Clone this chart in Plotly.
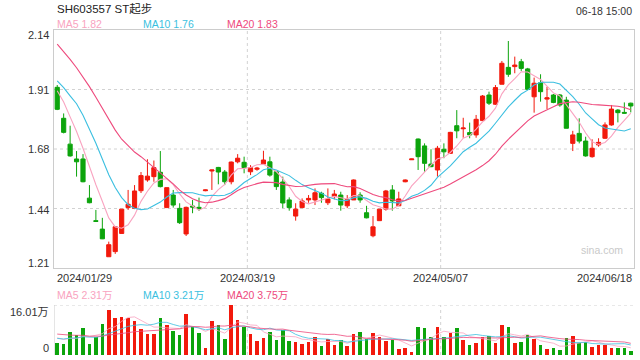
import plotly.graph_objects as go
import numpy as np

# ---------------- data ----------------
tick_labels = ["2024/01/29", "2024/03/19", "2024/05/07", "2024/06/18"]
tick_index = [0, 30, 60, 89]

open_ = [1.916, 1.795, 1.694, 1.636, 1.636, 1.483, 1.395, 1.362, 1.254, 1.274,
         1.345, 1.446, 1.443, 1.512, 1.554, 1.567, 1.584, 1.446, 1.495, 1.443,
         1.343, 1.452, 1.447, 1.512, 1.589, 1.603, 1.585, 1.547, 1.625, 1.623,
         1.586, 1.596, 1.616, 1.625, 1.586, 1.546, 1.476, 1.413, 1.446, 1.476,
         1.476, 1.502, 1.465, 1.489, 1.495, 1.453, 1.476, 1.495, 1.426, 1.336,
         1.395, 1.440, 1.515, 1.453, 1.547, 1.633, 1.714, 1.687, 1.616, 1.593,
         1.674, 1.658, 1.766, 1.754, 1.739, 1.730, 1.786, 1.886, 1.850, 1.928,
         1.994, 1.997, 2.016, 1.988, 1.879, 1.934, 1.870, 1.886, 1.886, 1.866,
         1.697, 1.736, 1.706, 1.645, 1.691, 1.717, 1.769, 1.827, 1.818, 1.854]
high = [1.925, 1.814, 1.766, 1.667, 1.655, 1.534, 1.437, 1.406, 1.313, 1.371,
        1.440, 1.515, 1.534, 1.585, 1.635, 1.630, 1.667, 1.524, 1.515, 1.463,
        1.450, 1.476, 1.485, 1.516, 1.594, 1.605, 1.593, 1.626, 1.655, 1.645,
        1.612, 1.605, 1.668, 1.645, 1.586, 1.567, 1.486, 1.463, 1.482, 1.495,
        1.521, 1.508, 1.521, 1.515, 1.508, 1.495, 1.556, 1.506, 1.453, 1.413,
        1.440, 1.515, 1.534, 1.508, 1.556, 1.637, 1.716, 1.697, 1.674, 1.687,
        1.697, 1.742, 1.827, 1.797, 1.778, 1.808, 1.886, 1.899, 1.925, 2.019,
        2.097, 2.036, 2.027, 1.992, 1.954, 1.967, 1.918, 1.890, 1.890, 1.879,
        1.746, 1.795, 1.723, 1.713, 1.717, 1.779, 1.847, 1.831, 1.857, 1.856]
low = [1.827, 1.736, 1.645, 1.567, 1.545, 1.463, 1.391, 1.323, 1.254, 1.265,
       1.345, 1.437, 1.440, 1.503, 1.547, 1.547, 1.525, 1.446, 1.446, 1.382,
       1.335, 1.424, 1.433, 1.510, 1.515, 1.537, 1.534, 1.537, 1.619, 1.580,
       1.573, 1.590, 1.616, 1.567, 1.515, 1.444, 1.434, 1.395, 1.444, 1.465,
       1.456, 1.465, 1.456, 1.478, 1.434, 1.444, 1.476, 1.465, 1.404, 1.330,
       1.395, 1.434, 1.434, 1.453, 1.545, 1.632, 1.593, 1.586, 1.604, 1.567,
       1.639, 1.656, 1.717, 1.719, 1.717, 1.719, 1.786, 1.847, 1.847, 1.928,
       1.957, 1.971, 1.980, 1.906, 1.817, 1.860, 1.831, 1.854, 1.840, 1.756,
       1.667, 1.697, 1.645, 1.641, 1.684, 1.714, 1.766, 1.779, 1.813, 1.818]
close = [1.830, 1.740, 1.648, 1.625, 1.547, 1.465, 1.392, 1.324, 1.301, 1.371,
         1.440, 1.459, 1.511, 1.571, 1.569, 1.602, 1.528, 1.524, 1.456, 1.387,
         1.447, 1.448, 1.442, 1.515, 1.593, 1.585, 1.547, 1.624, 1.639, 1.602,
         1.602, 1.600, 1.632, 1.573, 1.528, 1.464, 1.446, 1.440, 1.472, 1.482,
         1.504, 1.485, 1.480, 1.499, 1.456, 1.478, 1.554, 1.476, 1.406, 1.371,
         1.440, 1.511, 1.472, 1.480, 1.554, 1.636, 1.645, 1.619, 1.606, 1.678,
         1.664, 1.740, 1.746, 1.757, 1.730, 1.791, 1.882, 1.854, 1.915, 2.010,
         1.967, 2.003, 1.990, 1.908, 1.932, 1.899, 1.875, 1.857, 1.847, 1.756,
         1.730, 1.706, 1.648, 1.678, 1.701, 1.769, 1.831, 1.817, 1.815, 1.843]
# volume in 万 (10k shares)
volume = [3.95, 3.52, 7.36, 6.30, 8.64, 3.52, 5.76, 9.92, 14.4, 11.84,
          12.06, 11.84, 10.88, 8.32, 6.83, 6.83, 11.84, 9.60, 7.68, 6.40,
          13.12, 8.86, 7.15, 2.24, 10.88, 9.60, 5.12, 16.01, 11.2, 9.07,
          6.72, 4.48, 5.44, 7.47, 4.91, 8.00, 4.48, 4.27, 3.63, 4.27,
          5.87, 2.88, 5.01, 3.20, 4.80, 2.88, 6.72, 7.36, 5.12, 7.04,
          5.76, 4.48, 4.80, 1.92, 2.24, 1.07, 8.96, 8.64, 5.76, 8.96,
          5.76, 7.15, 8.64, 4.80, 3.20, 3.84, 5.76, 6.08, 3.84, 9.60,
          8.90, 3.84, 4.16, 6.40, 5.12, 3.20, 1.92, 2.24, 1.60, 5.44,
          6.20, 4.00, 4.30, 2.70, 3.35, 3.30, 2.40, 2.30, 2.30, 1.25]
# trading days before the first candle (needed for the moving averages)
prior_close = [2.30, 2.29, 2.27, 2.25, 2.24, 2.22, 2.20, 2.19, 2.18, 2.15,
               2.00, 1.97, 1.934, 2.00, 1.991, 1.96, 1.94, 1.91, 1.875]
prior_volume = [9.0, 8.5, 7.8, 8.2, 9.1, 7.5, 8.0, 7.6, 8.3, 7.0,
                5.2, 4.6, 5.8, 4.9, 5.0, 6.2, 5.5, 6.4, 5.45]

title_text = "SH603557 ST起步"
time_text = "06-18 15:00"
price_ma_text = ["MA5 1.82", "MA10 1.76", "MA20 1.83"]
vol_ma_text = ["MA5 2.31万", "MA10 3.21万", "MA20 3.75万"]
price_tick_text = ["2.14", "1.91", "1.68", "1.44", "1.21"]
vol_tick_text = ["16.01万", "0"]

# ---------------- styling ----------------
W, H = 640, 360
X0, X1 = 54, 634
PY0, PY1 = 30, 268
VY0, VY1 = 305, 355
UP, DOWN = "#f2190c", "#0ca40c"
C5, C10, C20 = "#f9a3c0", "#3bbfe0", "#ee4a7d"
GRID = "#d2d2d2"
FONT = "Liberation Sans, Arial, Noto Sans CJK SC, sans-serif"

n = len(close)
x = list(range(n))
pmin, pmax = 1.21, 2.14
vmax = 16.01


def moving_avg(prior, vals, k):
    allv = np.array(prior + vals, dtype=float)
    off = len(prior)
    return [allv[off + i - k + 1: off + i + 1].mean() for i in range(len(vals))]


fig = go.Figure()
fig.add_trace(go.Candlestick(
    x=x, open=open_, high=high, low=low, close=close,
    increasing=dict(line=dict(color=UP, width=1), fillcolor=UP),
    decreasing=dict(line=dict(color=DOWN, width=1), fillcolor=DOWN),
    whiskerwidth=0, xaxis="x", yaxis="y", hoverinfo="skip", showlegend=False))

for k, col in [(5, C5), (10, C10), (20, C20)]:
    fig.add_trace(go.Scatter(x=x, y=moving_avg(prior_close, close, k), mode="lines",
                             line=dict(color=col, width=1.1), xaxis="x", yaxis="y",
                             hoverinfo="skip", showlegend=False))

vcol = [UP if c >= o else DOWN for o, c in zip(open_, close)]
fig.add_trace(go.Bar(x=x, y=volume, marker=dict(color=vcol, line=dict(width=0)),
                     width=0.55, xaxis="x2", yaxis="y2", hoverinfo="skip", showlegend=False))
for k, col in [(5, C5), (10, C10), (20, C20)]:
    fig.add_trace(go.Scatter(x=x, y=moving_avg(prior_volume, volume, k), mode="lines",
                             line=dict(color=col, width=1), opacity=0.8, xaxis="x2", yaxis="y2",
                             hoverinfo="skip", showlegend=False))


def px_x(p):
    return p / W


def px_y(p):
    return 1 - p / H


shapes = []
# price gridlines (horizontal)
for j in range(1, 4):
    v = pmax - (pmax - pmin) * j / 4
    shapes.append(dict(type="line", xref="x", yref="y", x0=-0.5, x1=n - 0.5, y0=v, y1=v,
                       line=dict(color=GRID, width=1, dash="dot"), layer="below"))
# vertical date gridlines
for ti in tick_index[1:3]:
    shapes.append(dict(type="line", xref="x", yref="y", x0=ti - 0.5, x1=ti - 0.5, y0=pmin, y1=pmax,
                       line=dict(color=GRID, width=1, dash="dot"), layer="below"))
    shapes.append(dict(type="line", xref="x2", yref="y2", x0=ti - 0.5, x1=ti - 0.5, y0=0, y1=vmax,
                       line=dict(color=GRID, width=1, dash="dot"), layer="below"))
# volume panel borders
shapes.append(dict(type="line", xref="x2", yref="y2", x0=-0.5, x1=n - 0.5, y0=vmax, y1=vmax,
                   line=dict(color=GRID, width=1, dash="dot"), layer="below"))
shapes.append(dict(type="line", xref="x2", yref="y2", x0=-0.5, x1=-0.5, y0=0, y1=vmax,
                   line=dict(color="#cccccc", width=1), layer="below"))

ann = []


def text(t, xp, yp, xa, size, color):
    ann.append(dict(text=t, x=px_x(xp), y=px_y(yp), xref="paper", yref="paper",
                    xanchor=xa, yanchor="middle", showarrow=False,
                    font=dict(family=FONT, size=size, color=color)))


text(title_text, 55, 9, "left", 11.5, "#222222")
text(time_text, 634, 11, "right", 10.5, "#333333")
for t, xp, col in zip(price_ma_text, [55, 140.5, 225.3], [C5, C10, C20]):
    text(t, xp, 24.5, "left", 10.5, col)
for t, xp, col in zip(vol_ma_text, [55, 140.5, 225.3], [C5, C10, C20]):
    text(t, xp, 295, "left", 10.5, col)
for t, yp in zip(price_tick_text, [35, 89.5, 149, 209.5, 263]):
    text(t, 51, yp, "right", 11, "#333333")
text(vol_tick_text[0], 51, 312, "right", 11, "#333333")
text(vol_tick_text[1], 51, 348, "right", 11, "#333333")
for t, ti in zip(tick_labels, tick_index):
    if ti == 0:
        text(t, X0 + 1, 278, "left", 11, "#333333")
    elif ti == n - 1:
        text(t, X1, 278, "right", 11, "#333333")
    else:
        xp = X0 + (X1 - X0) * ti / n
        text(t, xp, 278, "center", 11, "#333333")
text("sina.com", 602, 250, "center", 10.5, "#c9c9c9")

axis_common = dict(showgrid=False, zeroline=False, showticklabels=False, ticks="",
                   fixedrange=True)
fig.update_layout(
    width=W, height=H, margin=dict(l=0, r=0, t=0, b=0),
    paper_bgcolor="white", plot_bgcolor="white",
    boxgap=0.2, boxgroupgap=0.19, bargap=0,
    xaxis=dict(domain=[px_x(X0), px_x(X1)], range=[-0.5, n - 0.5], anchor="y",
               showline=True, mirror=True, linecolor="#cccccc", linewidth=1,
               rangeslider=dict(visible=False), **axis_common),
    yaxis=dict(domain=[px_y(PY1), px_y(PY0)], range=[pmin, pmax], anchor="x",
               showline=True, mirror=True, linecolor="#cccccc", linewidth=1, **axis_common),
    xaxis2=dict(domain=[px_x(X0), px_x(X1)], range=[-0.5, n - 0.5], anchor="y2",
                showline=False, **axis_common),
    yaxis2=dict(domain=[px_y(VY1), px_y(VY0)], range=[0, vmax], anchor="x2",
                showline=False, **axis_common),
    shapes=shapes, annotations=ann, showlegend=False,
    font=dict(family=FONT),
)
fig.write_html("out.html", config=dict(displayModeBar=False, staticPlot=True),
               post_script="document.body.style.margin='0';document.body.style.overflow='hidden';")
